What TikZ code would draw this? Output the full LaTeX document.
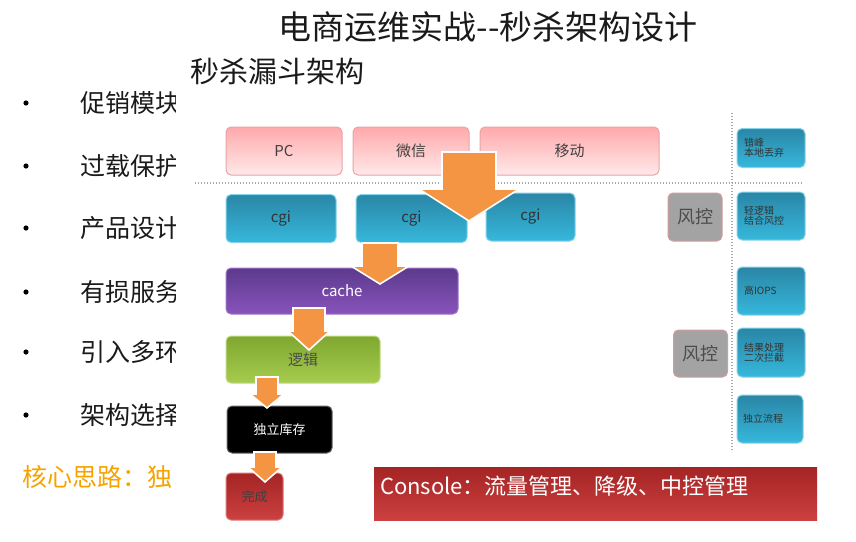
\documentclass[tikz,border=0pt]{standalone}
\usepackage{fontspec}
\setmainfont{Noto Sans CJK SC}
\usetikzlibrary{positioning}
\definecolor{slideInk}{HTML}{1A1A1A}
\definecolor{coreOrange}{HTML}{F5A300}
\definecolor{pinkTop}{HTML}{FFA9AB}
\definecolor{pinkBot}{HTML}{FFE9EA}
\definecolor{pinkEdge}{HTML}{EBA3A6}
\definecolor{tealTop}{HTML}{2A86A6}
\definecolor{tealBot}{HTML}{36B8DC}
\definecolor{tealEdge}{HTML}{86D3EA}
\definecolor{purpTop}{HTML}{5C3A8C}
\definecolor{purpBot}{HTML}{8853BC}
\definecolor{greenTop}{HTML}{7FA830}
\definecolor{greenBot}{HTML}{A6CB4E}
\definecolor{redTop}{HTML}{A52424}
\definecolor{redBot}{HTML}{CC4040}
\definecolor{riskGray}{HTML}{A3A3A3}
\definecolor{riskEdge}{HTML}{D59A9E}
\definecolor{arrowOrange}{HTML}{F39543}
\definecolor{guideGray}{HTML}{A8A8A8}
\newcommand{\fsz}[1]{\fontsize{#1}{#1}\selectfont}
% block arrow: x, y top, y head, y tip, shaft half width, head half width
\newcommand{\funnelarrow}[6]{%
  \filldraw[funnel arrow] (#1-#5,#2) -- (#1+#5,#2) -- (#1+#5,#3) -- (#1+#6,#3)
    -- (#1,#4) -- (#1-#6,#3) -- (#1-#5,#3) -- cycle;}
\tikzset{
  every picture/.style={text=slideInk},
  funnel box/.style={rounded corners=5pt, line width=1pt, minimum height=48pt,
    inner sep=0pt, align=center, font=\fsz{15}},
  pink box/.style={funnel box, draw=pinkEdge, top color=pinkTop, bottom color=pinkBot, text=black!75},
  teal box/.style={funnel box, draw=tealEdge, top color=tealTop, bottom color=tealBot, text=black!80},
  side box/.style={funnel box, draw=tealEdge, top color=tealTop, bottom color=tealBot,
    text=black!80, minimum width=68pt, text width=54pt, align=left, font=\fsz{10}},
  risk box/.style={funnel box, draw=riskEdge, fill=riskGray, minimum width=54pt,
    font=\fsz{18}, text=black!70},
  funnel arrow/.style={fill=arrowOrange, draw=white, line width=1.6pt},
  funnel guide/.style={draw=guideGray, line width=1.1pt, dash pattern=on 1.2pt off 1.8pt}
}

\begin{document}
\begin{tikzpicture}[x=1pt,y=-1pt]
  \useasboundingbox (0,0) rectangle (856,541);
  \node (title) at (488,27) {\fsz{33}电商运维实战-{}-秒杀架构设计};
  \node[anchor=west, inner sep=0pt] (subtitle) at (190,71) {\fsz{29}秒杀漏斗架构};
  \foreach \y/\txt [count=\i] in {103/促销模块, 166/过载保护, 228/产品设计,
      292/有损服务, 352/引入多环, 415/架构选择} {
    \fill (26,\y) circle (2.6pt) node (dot\i) {};
    \node[anchor=west, inner sep=0pt] (item\i) at (80,\y) {\fsz{25}\txt};
  }
  \node[anchor=west, inner sep=0pt, text=coreOrange] (core) at (22,477) {\fsz{25}核心思路：独};
  % diagram picture covers the rest of the bullet texts
  \fill[white] (176,88) rectangle (840,535);

  % guides
  \coordinate (hleft) at (195,183);
  \coordinate (hright) at (802,183);
  \coordinate (vtop) at (732,113);
  \coordinate (vbot) at (732,452);
  \draw[funnel guide] (hleft) -- (hright);
  \draw[funnel guide] (vtop) -- (vbot);

  % clients
  \node[pink box, minimum width=116pt] (pc) at (284,151) {PC};
  \node[pink box, minimum width=116pt] (wx) at (411,151) {微信};
  \node[pink box, minimum width=179pt] (mobile) at (569.5,151) {移动};
  % cgi layer
  \node[teal box, minimum width=110pt] (cgiA) at (281,218.5) {cgi};
  \node[teal box, minimum width=111pt] (cgiB) at (411.5,218.5) {cgi};
  \node[teal box, minimum width=89pt] (cgiC) at (530.5,217) {cgi};
  \node[risk box] (riskA) at (695,217) {风控};
  % funnel
  \node[funnel box, draw=purpBot!80, top color=purpTop, bottom color=purpBot,
    text=white, minimum width=232pt, minimum height=46pt] (cache) at (342,291) {cache};
  \node[funnel box, draw=greenBot!70, top color=greenTop, bottom color=greenBot,
    text=black!70, minimum width=154pt, minimum height=47pt] (logic) at (303,359.5) {逻辑};
  \node[funnel box, draw=black!60, fill=black, text=white!85, font=\fsz{13},
    minimum width=105pt, minimum height=47pt] (stock) at (279.5,429.5) {独立库存};
  \node[funnel box, draw=redBot!70, top color=redTop, bottom color=redBot,
    text=black!75, font=\fsz{13}, minimum width=57pt, minimum height=47pt] (done) at (254.5,496.5) {完成};
  \node[risk box, minimum height=47pt] (riskB) at (700.5,353.5) {风控};
  % console bar
  \node[draw=none, top color=redTop, bottom color=redBot, minimum width=443pt,
    minimum height=53pt, inner sep=0pt] (console) at (595.5,493.5) {};
  \node[anchor=west, inner sep=0pt, text=white] (consoleText) at ([xshift=6pt,yshift=7pt]console.west)
    {\fsz{22}Console：流量管理、降级、中控管理};
  % side notes
  \node[side box, minimum height=39pt] (noteA) at (771,148) {错峰\\本地丢弃};
  \node[side box] (noteB) at (771,216) {轻逻辑\\结合风控};
  \node[side box] (noteC) at (771,291) {高IOPS};
  \node[side box, minimum height=49pt] (noteD) at (771,352.5) {结果处理\\二次拦截};
  \node[side box, minimum width=66pt] (noteE) at (770,419) {独立流程};

  % funnel arrows
  \funnelarrow{469}{152}{189}{221}{27}{50}
  \funnelarrow{380}{243}{266}{284}{18}{29}
  \funnelarrow{309}{308}{331}{350}{16}{21}
  \funnelarrow{267}{377}{394}{408}{11}{17}
  \funnelarrow{265}{452}{467}{482}{11}{17}
\end{tikzpicture}
\end{document}
